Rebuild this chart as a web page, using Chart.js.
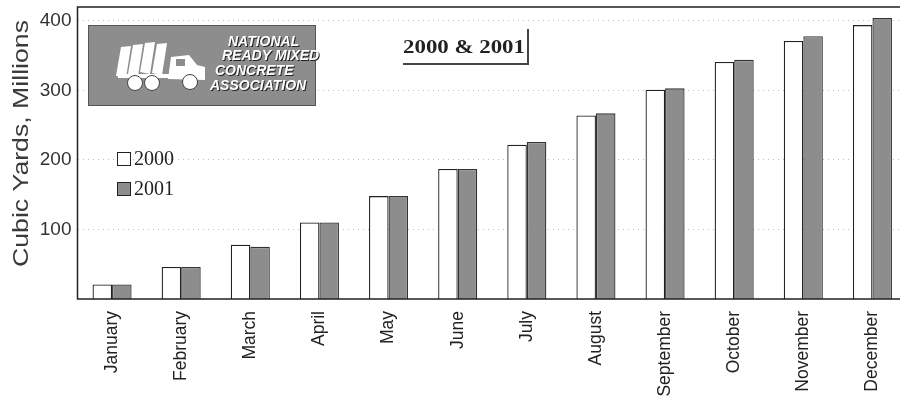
<!DOCTYPE html>
<html>
<head>
<meta charset="utf-8">
<script src="https://cdn.jsdelivr.net/npm/chart.js@4.4.1/dist/chart.umd.min.js"></script>
<style>
  html, body { margin: 0; padding: 0; background: #fff; overflow: hidden; }
  #wrap { width: 907px; height: 403px; position: relative; }
</style>
</head>
<body>
<div id="wrap"><canvas id="c"></canvas></div>
<script>
const months = ['January','February','March','April','May','June','July','August','September','October','November','December'];
const series2000 = [21, 46, 78, 110, 148, 187, 222, 264, 301, 341, 371, 394];
const series2001 = [21, 46, 75, 110, 148, 187, 226, 267, 303, 344, 378, 404];
const seriesLabels = ['2000', '2001'];
const yTicks = [100, 200, 300, 400];
const yTitle = 'Cubic Yards, Millions';
const boxTitle = '2000 & 2001';
const logoLines = ['NATIONAL', 'READY MIXED', 'CONCRETE', 'ASSOCIATION'];

const GRAY = '#8d8d8d';

const decor = {
  id: 'decor',
  beforeDatasetsDraw(chart) {
    const ctx = chart.ctx;
    ctx.save();
    // Logo box
    ctx.fillStyle = GRAY;
    ctx.fillRect(88, 25, 228, 81);
    ctx.strokeStyle = '#555';
    ctx.lineWidth = 1;
    ctx.strokeRect(88.5, 25.5, 227, 80);
    // truck drum stripes
    ctx.fillStyle = '#fff';
    const stripes = [[116,47],[128,45],[140,43],[152,44]];
    stripes.forEach(([x, y]) => {
      ctx.beginPath();
      ctx.moveTo(x + 5, y);
      ctx.lineTo(x + 15, y - 1);
      ctx.lineTo(x + 10, y + 31);
      ctx.lineTo(x, y + 29);
      ctx.closePath();
      ctx.fill();
    });
    // chassis
    ctx.fillRect(118, 74, 54, 4);
    // cab
    ctx.beginPath();
    ctx.moveTo(168, 79);
    ctx.lineTo(171, 57);
    ctx.lineTo(189, 55);
    ctx.lineTo(197, 65);
    ctx.lineTo(205, 67);
    ctx.lineTo(205, 80);
    ctx.closePath();
    ctx.fill();
    ctx.fillStyle = GRAY;
    ctx.fillRect(176, 59, 9, 7);
    // wheels
    ctx.fillStyle = '#fff';
    [[135, 83], [152, 83], [190, 82]].forEach(([x, y]) => {
      ctx.beginPath();
      ctx.arc(x, y, 7.5, 0, Math.PI * 2);
      ctx.fill();
      ctx.strokeStyle = '#444';
      ctx.lineWidth = 1;
      ctx.stroke();
    });
    // logo text
    ctx.font = 'italic bold 14px "Liberation Sans", Arial, sans-serif';
    ctx.textBaseline = 'alphabetic';
    const lx = [228, 222, 215, 210];
    const ly = [46, 60, 75, 90];
    logoLines.forEach((t, i) => {
      ctx.fillStyle = '#222';
      ctx.fillText(t, lx[i] + 1, ly[i] + 1);
      ctx.fillStyle = '#fff';
      ctx.fillText(t, lx[i], ly[i]);
    });

    // "2000 & 2001" box
    ctx.save();
    ctx.font = 'bold 19px "Liberation Serif", "Times New Roman", serif';
    const w = ctx.measureText(boxTitle).width;
    ctx.translate(403, 53);
    ctx.scale(122 / w, 1);
    ctx.fillStyle = '#222';
    ctx.fillText(boxTitle, 0, 0);
    ctx.restore();
    ctx.strokeStyle = '#444';
    ctx.lineWidth = 2;
    ctx.beginPath();
    ctx.moveTo(403, 64);
    ctx.lineTo(528, 64);
    ctx.lineTo(528, 29);
    ctx.stroke();

    // Legend
    const ds = chart.data.datasets;
    const ys = [159, 189];
    ds.forEach((d, i) => {
      ctx.fillStyle = d.backgroundColor;
      ctx.fillRect(117, ys[i] - 7, 14, 14);
      ctx.strokeStyle = '#222';
      ctx.lineWidth = 1;
      ctx.strokeRect(117.5, ys[i] - 6.5, 13, 13);
      ctx.fillStyle = '#222';
      ctx.font = '20px "Liberation Serif", "Times New Roman", serif';
      ctx.textBaseline = 'middle';
      ctx.fillText(d.label, 134, ys[i] + 1);
    });
    ctx.restore();
  },
  afterDraw(chart) {
    const ctx = chart.ctx;
    const a = chart.chartArea;
    ctx.save();
    // frame
    ctx.strokeStyle = '#222';
    ctx.lineWidth = 1.5;
    ctx.beginPath();
    ctx.moveTo(a.right + 2, a.top);
    ctx.lineTo(a.left, a.top);
    ctx.lineTo(a.left, a.bottom);
    ctx.lineTo(a.right + 2, a.bottom);
    ctx.stroke();
    // y title
    ctx.font = '22px "Liberation Sans", Arial, sans-serif';
    const tw = ctx.measureText(yTitle).width;
    ctx.translate(22, 143.5);
    ctx.rotate(-Math.PI / 2);
    ctx.scale(247 / tw, 1);
    ctx.fillStyle = '#3a3a3a';
    ctx.textAlign = 'center';
    ctx.textBaseline = 'middle';
    ctx.fillText(yTitle, 0, 0);
    ctx.restore();
  }
};

new Chart(document.getElementById('c'), {
  type: 'bar',
  data: {
    labels: months,
    datasets: [
      { label: seriesLabels[0], data: series2000, backgroundColor: '#ffffff', borderColor: '#222', borderWidth: 1.3 },
      { label: seriesLabels[1], data: series2001, backgroundColor: GRAY, borderColor: '#333', borderWidth: 1.3 }
    ]
  },
  options: {
    responsive: true,
    maintainAspectRatio: false,
    animation: false,
    layout: { padding: { top: 7, left: 0, right: 0, bottom: 0 } },
    datasets: { bar: { categoryPercentage: 0.565, barPercentage: 1.0 } },
    plugins: { legend: { display: false }, tooltip: { enabled: false } },
    scales: {
      x: {
        grid: { display: false, drawTicks: false },
        border: { display: false },
        ticks: {
          autoSkip: false, maxRotation: 90, minRotation: 90, padding: 12,
          color: '#222', font: { family: '"Liberation Sans", Arial, sans-serif', size: 17.5 }
        },
        afterFit(s) { s.height = 104; s.paddingLeft = 0; s.paddingRight = 0; }
      },
      y: {
        min: 0, max: 420,
        afterBuildTicks(s) { s.ticks = yTicks.map(v => ({ value: v })); },
        grid: { color: '#bdbdbd', drawTicks: false, lineWidth: 1 },
        border: { display: false, dash: [1, 4] },
        ticks: {
          padding: 6, color: '#333',
          font: { family: '"Liberation Sans", Arial, sans-serif', size: 19 }
        },
        afterFit(s) { s.width = 77.5; s.paddingTop = 0; s.paddingBottom = 0; }
      }
    }
  },
  plugins: [decor]
});
</script>
</body>
</html>
